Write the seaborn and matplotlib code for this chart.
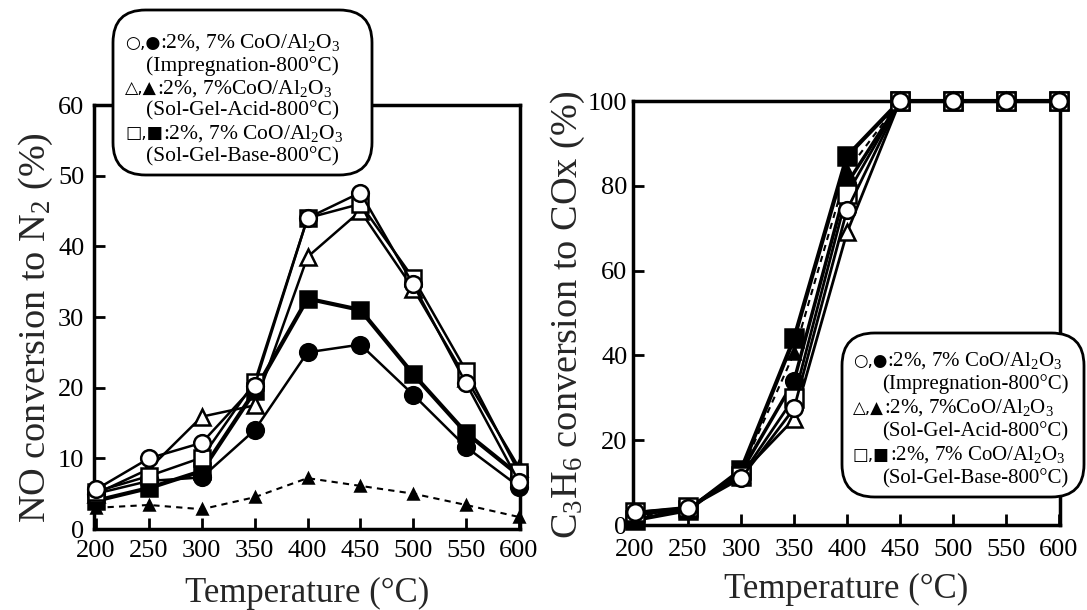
import matplotlib
matplotlib.use("Agg")
import matplotlib.pyplot as plt
from matplotlib.patches import FancyBboxPatch
from matplotlib.text import Annotation
import numpy as np
import pandas as pd
import seaborn as sns

# Reaction temperatures (°C)
temperature = [200, 250, 300, 350, 400, 450, 500, 550, 600]

# NO conversion to N2 (%)
no_imp_2 = [5.6, 10.0, 12.2, 20.3, 44.0, 47.6, 34.6, 20.6, 6.7]
no_imp_7 = [5.0, 6.8, 7.3, 14.0, 25.0, 26.1, 19.0, 11.6, 6.0]
no_acid_2 = [5.0, 8.5, 15.9, 17.5, 38.5, 45.0, 34.0, 21.3, 8.7]
no_acid_7 = [3.0, 3.4, 2.8, 4.5, 7.2, 6.1, 5.0, 3.4, 1.7]
no_base_2 = [5.3, 7.5, 10.1, 20.8, 44.0, 46.0, 35.5, 22.4, 8.0]
no_base_7 = [4.0, 5.8, 8.2, 19.5, 32.6, 31.0, 21.9, 13.6, 7.6]

# C3H6 conversion to COx (%)
hc_imp_2 = [3.0, 4.0, 11.0, 27.5, 74.3, 100, 100, 100, 100]
hc_imp_7 = [2.5, 3.8, 12.5, 34.0, 80.5, 100, 100, 100, 100]
hc_acid_2 = [2.5, 3.8, 12.0, 25.0, 69.0, 100, 100, 100, 100]
hc_acid_7 = [2.0, 3.5, 12.5, 40.5, 83.5, 100, 100, 100, 100]
hc_base_2 = [3.0, 4.2, 11.5, 30.0, 78.0, 100, 100, 100, 100]
hc_base_7 = [1.2, 3.5, 13.0, 44.0, 87.0, 100, 100, 100, 100]

x_ticks = [200, 250, 300, 350, 400, 450, 500, 550, 600]
no_ticks = [0, 10, 20, 30, 40, 50, 60]
hc_ticks = [0, 20, 40, 60, 80, 100]

# Legend entries: symbols, catalyst loading, preparation route
legend_entries = [
    ("○,●", ":2%, 7% CoO/Al$_2$O$_3$", "(Impregnation-800°C)"),
    ("△,▲", ":2%, 7%CoO/Al$_2$O$_3$", "(Sol-Gel-Acid-800°C)"),
    ("□,■", ":2%, 7% CoO/Al$_2$O$_3$", "(Sol-Gel-Base-800°C)"),
]

sns.set_theme(style="ticks")
plt.rcParams["font.family"] = ["Liberation Serif", "DejaVu Sans"]
plt.rcParams["mathtext.fontset"] = "custom"
plt.rcParams["mathtext.rm"] = "Liberation Serif"
plt.rcParams["mathtext.it"] = "Liberation Serif:italic"
plt.rcParams["mathtext.bf"] = "Liberation Serif:bold"

W, H = 1087, 610
fig = plt.figure(figsize=(W / 100, H / 100), dpi=100)
fig.patch.set_facecolor("white")


def px_axes(x0, y0, x1, y1):
    return fig.add_axes([x0 / W, 1 - y1 / H, (x1 - x0) / W, (y1 - y0) / H])


ax1 = px_axes(94, 105, 520, 529)
ax2 = px_axes(633, 101, 1060, 525)


def draw(ax, series):
    for vals, marker, filled, dashed, lw, ms in series:
        df = pd.DataFrame({"T": temperature, "v": vals})
        sns.lineplot(
            data=df, x="T", y="v", ax=ax, color="black",
            linewidth=lw, linestyle=(0, (3, 2.5)) if dashed else "-",
            marker=marker, markersize=ms,
            markerfacecolor="black" if filled else "white",
            markeredgecolor="black", markeredgewidth=1.8,
            errorbar=None, sort=False, clip_on=False, zorder=3,
        )


draw(ax1, [
    (no_acid_7, "^", True, True, 1.5, 7),
    (no_imp_7, "o", True, False, 1.8, 12),
    (no_base_7, "s", True, False, 3.0, 12),
    (no_acid_2, "^", False, False, 1.8, 12),
    (no_base_2, "s", False, False, 1.8, 12),
    (no_imp_2, "o", False, False, 1.8, 12),
])

draw(ax2, [
    (hc_acid_7, "^", True, True, 1.5, 9),
    (hc_imp_7, "o", True, False, 2.5, 12),
    (hc_base_7, "s", True, False, 3.0, 13),
    (hc_acid_2, "^", False, False, 2.0, 12),
    (hc_base_2, "s", False, False, 2.0, 13),
    (hc_imp_2, "o", False, False, 2.0, 12),
])

for ax, ylim, yt, ypad, xpad in [(ax1, (0, 60), no_ticks, 7, 8),
                                 (ax2, (0, 100), hc_ticks, 4, 10)]:
    ax.set_xlim(198, 601)
    ax.set_ylim(*ylim)
    ax.set_xticks(x_ticks)
    ax.set_yticks(yt)
    ax.set_xticklabels([str(t) for t in x_ticks])
    ax.set_yticklabels([str(t) for t in yt])
    ax.tick_params(direction="in", length=8, width=2, labelsize=19,
                   colors="black")
    ax.tick_params(axis="x", pad=xpad)
    ax.tick_params(axis="y", pad=ypad)
    for s in ax.spines.values():
        s.set_visible(True)
        s.set_linewidth(2.5)
        s.set_color("black")
    ax.set_facecolor("white")
    ax.set_xlabel("Temperature (°C)", fontsize=25,
                  labelpad=11 if ax is ax1 else 9)

ax1.set_ylabel("NO conversion to N$_2$ (%)", fontsize=27.5)
ax1.yaxis.set_label_coords(-0.092, 0.474)
ax2.set_ylabel("C$_3$H$_6$ conversion to COx (%)", fontsize=27.5)
ax2.yaxis.set_label_coords(-0.107, 0.495)


def legend_box(x0, y0, x1, y1, tx0, tx1, base0, dy, fs):
    box = FancyBboxPatch(
        (x0 / W, 1 - y1 / H), (x1 - x0) / W, (y1 - y0) / H,
        boxstyle="round,pad=0,rounding_size=0.03",
        transform=fig.transFigure, facecolor="white", edgecolor="black",
        linewidth=2.0, zorder=10, mutation_aspect=W / H,
    )
    fig.add_artist(box)
    for i, (sym, head, sub) in enumerate(legend_entries):
        yb = 1 - (base0 + 2 * i * dy) / H
        s = fig.text(tx0 / W, yb, sym, fontsize=fs * 0.8, family="DejaVu Sans",
                     ha="left", va="baseline", zorder=11, color="black")
        ann = Annotation(head, xy=(1.0, yb), xycoords=(s, "figure fraction"),
                         fontsize=fs, ha="left", va="baseline", zorder=11,
                         color="black")
        fig.add_artist(ann)
        fig.text(tx1 / W, 1 - (base0 + (2 * i + 1) * dy) / H, sub,
                 fontsize=fs, ha="left", va="baseline", zorder=11,
                 color="black")


legend_box(113, 10, 372, 175, 125, 146, 48, 22.6, 15.5)
legend_box(842, 333, 1084, 497, 853, 882, 366, 23.5, 15.0)

fig.savefig("out.png", dpi=100, facecolor="white")
